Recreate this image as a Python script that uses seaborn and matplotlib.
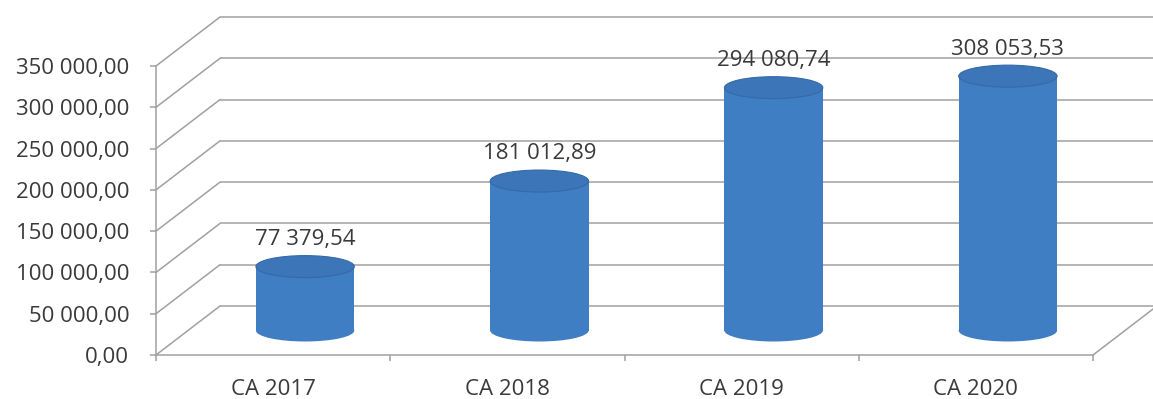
import numpy as np
import pandas as pd
import matplotlib
matplotlib.use("Agg")
import matplotlib.pyplot as plt
import matplotlib.transforms as mtrans
from matplotlib.patches import Ellipse
from matplotlib.lines import Line2D
from matplotlib.ticker import FuncFormatter
import seaborn as sns

# Chart data
categories = ["CA 2017", "CA 2018", "CA 2019", "CA 2020"]
values = [77379.54, 181012.89, 294080.74, 308053.53]
value_labels = ["77 379,54", "181 012,89", "294 080,74", "308 053,53"]
y_ticks = [0, 50000, 100000, 150000, 200000, 250000, 300000, 350000]

sns.set_theme(style="white")
plt.rcParams["font.family"] = ["Open Sans", "DejaVu Sans"]

W, H = 1153, 399
fig = plt.figure(figsize=(W / 100, H / 100), dpi=100)
ax = fig.add_axes([156 / W, (H - 355) / H, (1093 - 156) / W, (355 - 66) / H])

text_color = "#3a3a3a"
wall_color = "#a0a0a0"
body_color = "#3f7ec3"
top_color = "#3c76b8"
edge_color = "#3569a8"
fsize = 16

df = pd.DataFrame({"cat": categories, "val": values})
sns.barplot(data=df, x="cat", y="val", width=0.42, color=body_color,
            saturation=1, ax=ax, zorder=3)

ax.set_xlim(-0.5, 3.5)
ax.set_ylim(0, 350000)
ax.set_xlabel("")
ax.set_ylabel("")
ax.patch.set_alpha(0)

# 3D depth offsets (in inches): full depth for the back wall, half for the cylinders
depth = mtrans.ScaledTranslation(0.64, 0.49, fig.dpi_scale_trans)
half = mtrans.ScaledTranslation(0.32, 0.245, fig.dpi_scale_trans)

# Back wall gridlines and the diagonal lines on the side wall
for t in y_ticks:
    ax.hlines(t, -0.5, 3.5, colors=wall_color, linewidth=1.1,
              transform=ax.transData + depth, clip_on=False, zorder=1)
    x0, y0 = ax.transData.transform((-0.5, t))
    fig.add_artist(Line2D([x0, x0 + 64], [y0, y0 + 49], color=wall_color,
                          linewidth=1.1, transform=mtrans.IdentityTransform(),
                          zorder=1))
# right edge of the floor
x1, y1 = ax.transData.transform((3.5, 0))
fig.add_artist(Line2D([x1, x1 + 64], [y1, y1 + 49], color=wall_color,
                      linewidth=1.1, transform=mtrans.IdentityTransform(),
                      zorder=1))

# Cylinders: bar bodies shifted to mid depth, with elliptic caps
ell_h = 22 / 289 * 350000
for i, p in enumerate(ax.patches):
    p.set_transform(ax.transData + half)
    p.set_clip_on(False)
    p.set_edgecolor("none")
    cx = p.get_x() + p.get_width() / 2
    v = p.get_height()
    bottom = Ellipse((cx, 0), p.get_width(), ell_h, facecolor=body_color,
                     edgecolor="none", transform=ax.transData + half,
                     clip_on=False, zorder=2.9)
    ax.add_patch(bottom)
    top = Ellipse((cx, v), p.get_width(), ell_h, facecolor=top_color,
                  edgecolor=edge_color, linewidth=0.8,
                  transform=ax.transData + half, clip_on=False, zorder=4)
    ax.add_patch(top)
    ax.annotate(value_labels[i], xy=(cx, v), xycoords=ax.transData + half,
                xytext=(0, 19.5), textcoords="offset points",
                ha="center", va="center", fontsize=fsize, color=text_color,
                zorder=5)

# Axes styling
for s in ["top", "right"]:
    ax.spines[s].set_visible(False)
for s in ["left", "bottom"]:
    ax.spines[s].set_color(wall_color)
    ax.spines[s].set_linewidth(1.1)

ax.set_yticks(y_ticks)
ax.yaxis.set_major_formatter(FuncFormatter(
    lambda v, pos: f"{v:,.2f}".replace(",", " ").replace(".", ",")))
ax.tick_params(axis="y", which="major", left=True, length=4.3, width=1.1,
               color=wall_color, pad=15, labelsize=fsize, labelcolor=text_color)
ax.set_xticks(range(len(categories)))
ax.set_xticklabels(categories)
ax.set_xticks([-0.5, 0.5, 1.5, 2.5, 3.5], minor=True)
ax.tick_params(axis="x", which="major", bottom=False, length=0, pad=17,
               labelsize=fsize, labelcolor=text_color)
ax.tick_params(axis="x", which="minor", bottom=True, length=4.5, width=1.1,
               color=wall_color)

fig.savefig("out.png", dpi=100)
